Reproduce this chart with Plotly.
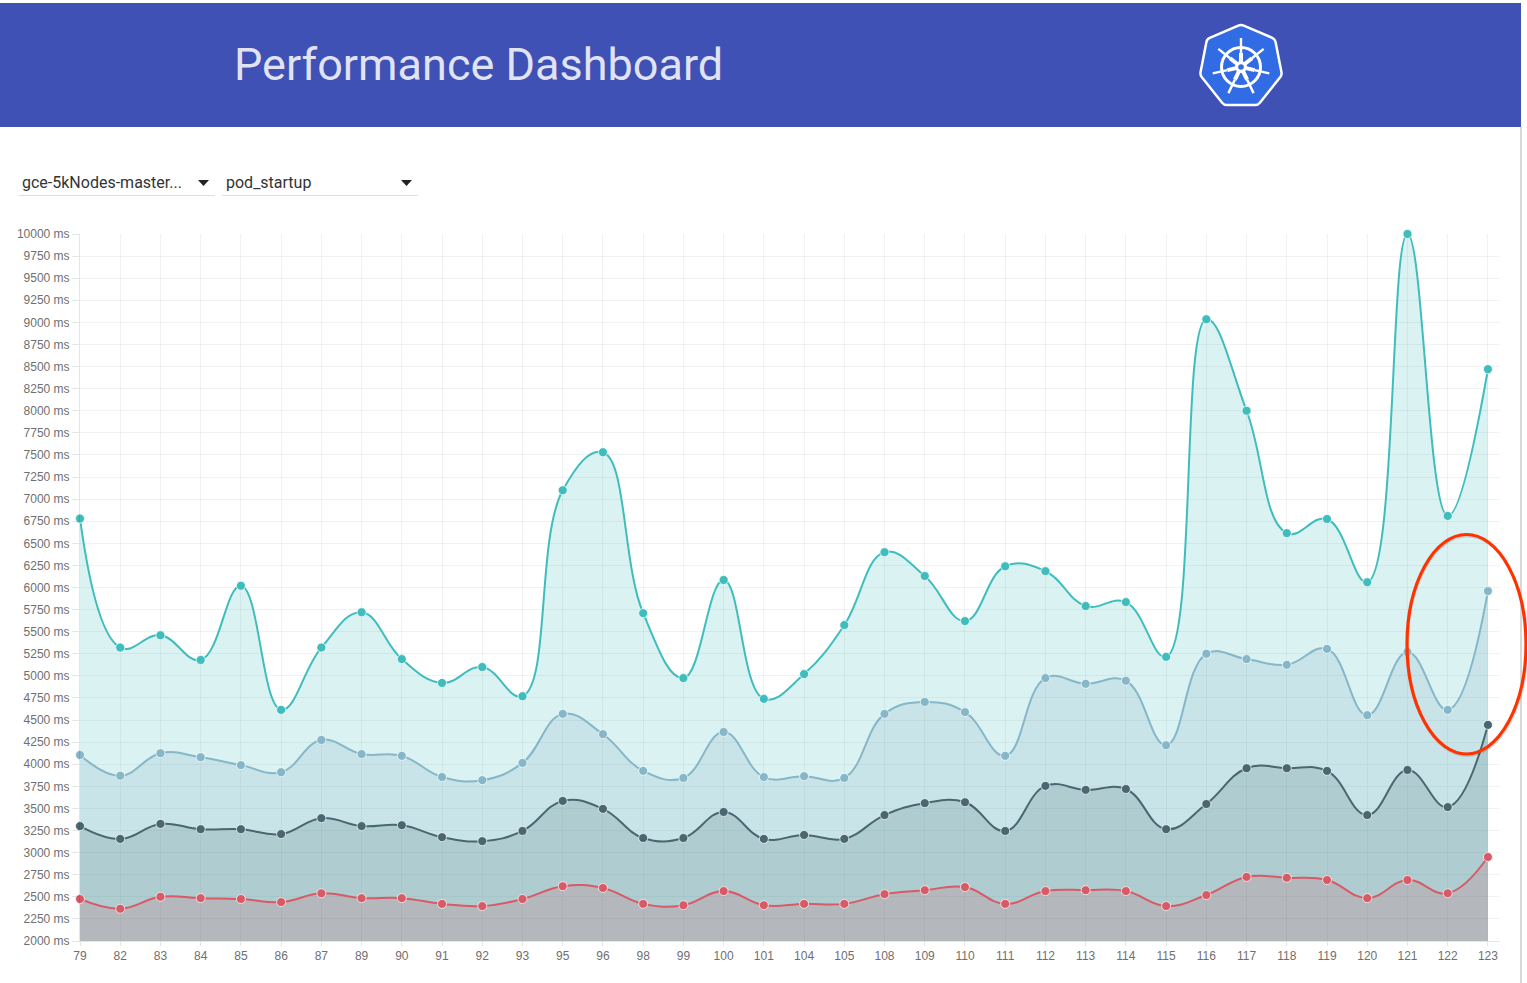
import math
import plotly.graph_objects as go

W = 1527
H = 983

# build numbers on the x axis
builds = ["79", "82", "83", "84", "85", "86", "87", "89", "90", "91", "92", "93",
          "95", "96", "98", "99", "100", "101", "104", "105", "108", "109", "110",
          "111", "112", "113", "114", "115", "116", "117", "118", "119", "120",
          "121", "122", "123"]

# pod startup latency in ms
perc100 = [6780, 5320, 5460, 5180, 6020, 4615, 5320, 5720, 5190, 4920, 5100, 4770,
           7100, 7530, 5710, 4975, 6085, 4740, 5020, 5575, 6400, 6130, 5620,
           6240, 6185, 5790, 5835, 5215, 9035, 8000, 6615, 6775, 6060,
           10000, 6810, 8470]
perc99 = [4105, 3870, 4125, 4080, 3990, 3910, 4275, 4115, 4095, 3855, 3820, 4015,
          4570, 4340, 3925, 3845, 4365, 3855, 3865, 3845, 4570, 4705, 4590,
          4095, 4975, 4910, 4945, 4215, 5250, 5190, 5125, 5305, 4555,
          5270, 4615, 5960]
perc90 = [3300, 3155, 3325, 3265, 3265, 3210, 3390, 3300, 3310, 3175, 3130, 3245,
          3585, 3495, 3165, 3165, 3460, 3155, 3200, 3155, 3425, 3560, 3570,
          3245, 3755, 3710, 3720, 3265, 3550, 3955, 3955, 3925, 3425,
          3935, 3515, 4445]
perc50 = [2475, 2365, 2500, 2485, 2475, 2440, 2540, 2485, 2485, 2420, 2395, 2475,
          2620, 2600, 2420, 2405, 2565, 2405, 2420, 2420, 2530, 2575, 2610,
          2420, 2565, 2575, 2565, 2395, 2520, 2725, 2715, 2690, 2485,
          2690, 2540, 2950]


def px(x):
    return x / W


def py(y):
    return 1 - y / H


def line(x0, y0, x1, y1, color, width):
    return dict(type="line", xref="paper", yref="paper", x0=px(x0), y0=py(y0), x1=px(x1), y1=py(y1),
                line=dict(color=color, width=width), layer="above")


def circle(cx, cy, r, fill, color="rgba(0,0,0,0)", width=0):
    return dict(type="circle", xref="paper", yref="paper", x0=px(cx - r), x1=px(cx + r),
                y0=py(cy + r), y1=py(cy - r), fillcolor=fill, line=dict(color=color, width=width), layer="above")


def triangle(cx, cy):
    path = f"M {px(cx - 5)} {py(cy - 3)} L {px(cx + 6)} {py(cy - 3)} L {px(cx + 0.5)} {py(cy + 3)} Z"
    return dict(type="path", xref="paper", yref="paper", path=path, fillcolor="#222222", line=dict(width=0), layer="above")


fig = go.Figure()

series = [(perc100, "#3fbdbd", "rgba(75,192,192,0.2)"),
          (perc99, "#85b7c8", "rgba(124,177,197,0.2)"),
          (perc90, "#4a6670", "rgba(75,115,120,0.2)"),
          (perc50, "#d85a66", "rgba(205,85,90,0.18)")]

for values, color, fill in series:
    fig.add_trace(go.Scatter(x=builds, y=values, mode="lines+markers", fill="tozeroy", fillcolor=fill,
                             line=dict(color=color, width=2, shape="spline", smoothing=1.2),
                             marker=dict(color=color, size=9, line=dict(color="rgba(255,255,255,0.7)", width=1)),
                             cliponaxis=False, showlegend=False))

# header and controls
shapes = [dict(type="rect", xref="paper", yref="paper", x0=0, x1=px(1521), y0=py(127), y1=py(3),
               fillcolor="#3f51b5", line=dict(width=0), layer="above"),
          line(1521, 127, 1521, 983, "#d8d8d8", 2),
          line(19, 195.5, 215, 195.5, "#dddddd", 1),
          line(222, 195.5, 418, 195.5, "#dddddd", 1),
          triangle(203, 183),
          triangle(406, 183)]

# kubernetes logo, heptagon with rounded corners
hept = [(1241, 24.5), (1275, 39), (1282, 75), (1258, 105), (1224, 105), (1200, 75), (1207, 39)]
hept_path = ""
for i, (a, b) in enumerate(hept):
    pa, pb = hept[i - 1]
    na, nb = hept[(i + 1) % 7]
    t0 = 3 / math.hypot(a - pa, b - pb)
    t1 = 3 / math.hypot(na - a, nb - b)
    start = (a + (pa - a) * t0, b + (pb - b) * t0)
    end = (a + (na - a) * t1, b + (nb - b) * t1)
    hept_path += ("M " if i == 0 else "L ") + f"{px(start[0])} {py(start[1])} "
    hept_path += f"Q {px(a)} {py(b)} {px(end[0])} {py(end[1])} "
hept_path += "Z"
shapes.append(dict(type="path", xref="paper", yref="paper", path=hept_path, fillcolor="#326ce5",
                   line=dict(color="white", width=2.5), layer="above"))
cx, cy = 1241, 67
shapes.append(circle(cx, cy, 19.5, "rgba(0,0,0,0)", "white", 3))
for i in range(7):
    a = 2 * math.pi * i / 7
    s, c = math.sin(a), math.cos(a)
    shapes.append(line(cx + 4 * s, cy - 4 * c, cx + 14 * s, cy - 14 * c, "white", 4))
    shapes.append(line(cx + 14 * s, cy - 14 * c, cx + 29 * s, cy - 29 * c, "white", 2.4))
shapes.append(circle(cx, cy, 6, "white"))
shapes.append(circle(cx, cy, 2.8, "#326ce5"))

# hand drawn marker around the last builds, with its faint shadow
shapes.append(dict(type="circle", xref="paper", yref="paper", x0=px(1407.5), x1=px(1527), y0=py(755.5), y1=py(536),
                   line=dict(color="rgba(0,0,0,0.12)", width=3), layer="above"))
shapes.append(dict(type="circle", xref="paper", yref="paper", x0=px(1407), x1=px(1526), y0=py(754), y1=py(534.5),
                   line=dict(color="#ff3300", width=3.2), layer="above"))

annotations = [
    dict(text="Performance Dashboard", x=px(232), y=py(64), xref="paper", yref="paper", xanchor="left", yanchor="middle",
         showarrow=False, font=dict(family="Roboto", size=45, color="rgba(255,255,255,0.85)")),
    dict(text="gce-5kNodes-master...", x=px(20), y=py(182), xref="paper", yref="paper", xanchor="left", yanchor="middle",
         showarrow=False, font=dict(family="Roboto", size=16, color="#333333")),
    dict(text="pod_startup", x=px(223.5), y=py(182), xref="paper", yref="paper", xanchor="left", yanchor="middle",
         showarrow=False, font=dict(family="Roboto", size=16, color="#333333")),
]

fig.update_layout(width=W, height=H, margin=dict(l=0, r=0, t=0, b=0), paper_bgcolor="white", plot_bgcolor="white",
                  shapes=shapes, annotations=annotations, hovermode=False)

fig.update_xaxes(type="category", categoryorder="array", categoryarray=builds, range=[0, 35.3], automargin=False,
                 domain=[px(80), px(1500)], showgrid=True, gridcolor="rgba(0,0,0,0.05)", ticks="outside", ticklen=4,
                 tickcolor="rgba(0,0,0,0.1)", tickangle=0,
                 showline=True, linecolor="rgba(0,0,0,0.1)", tickfont=dict(family="Liberation Sans", size=12, color="#6f6f6f"),
                 zeroline=False)
fig.update_yaxes(range=[2000, 10000], tick0=2000, dtick=250, tickformat="d", ticksuffix=" ms", automargin=False,
                 domain=[py(941), py(234)], showgrid=True, gridcolor="rgba(0,0,0,0.05)", ticks="outside", ticklen=7,
                 tickcolor="rgba(0,0,0,0.1)", showline=True, linecolor="rgba(0,0,0,0.1)",
                 tickfont=dict(family="Liberation Sans", size=12, color="#6f6f6f"), zeroline=False)

fig.write_html("out.html", config=dict(displayModeBar=False),
               post_script="document.body.style.margin='0';document.body.style.overflow='hidden';")
